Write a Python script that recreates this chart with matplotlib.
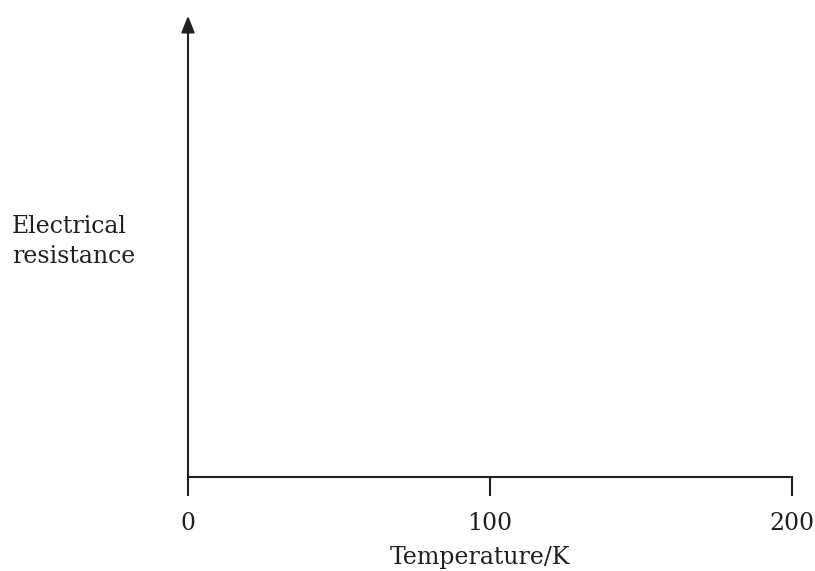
import matplotlib.pyplot as plt

plt.rcParams['font.family'] = ['DejaVu Serif']

W, H = 815, 571
x_ticks = [0, 100, 200]
x_tick_labels = ['0', '100', '200']
x_label = 'Temperature/K'
y_label_lines = ['Electrical', 'resistance']

ink = '#231f20'
fs = 17

fig = plt.figure(figsize=(W / 100, H / 100), dpi=100)
# axes box in pixels: x 188..792, y 477 (bottom) .. 30 (top of spine)
ax = fig.add_axes([188 / W, (H - 477) / H, (792 - 188) / W, (477 - 30) / H])
ax.set_xlim(0, 200)
ax.set_ylim(0, 1)

for s in ['top', 'right']:
    ax.spines[s].set_visible(False)
for s in ['left', 'bottom']:
    ax.spines[s].set_linewidth(1.5)
    ax.spines[s].set_color(ink)

ax.set_yticks([])
ax.set_xticks(x_ticks)
ax.set_xticklabels(x_tick_labels, fontsize=fs)
ax.tick_params(axis='x', length=14, width=1.5, color=ink, pad=11,
               labelcolor=ink)

# arrow head on the y axis
ax.annotate('', xy=(0, 1.038), xytext=(0, 0.99), xycoords='axes fraction',
            arrowprops=dict(arrowstyle='-|>,head_length=1.0,head_width=0.4',
                            color=ink, lw=1.5))

fig.text(480 / W, 1 - 564 / H, x_label, ha='center', va='baseline',
         fontsize=fs, color=ink)
for i, line in enumerate(y_label_lines):
    fig.text(12 / W, 1 - (233 + 30 * i) / H, line, ha='left', va='baseline',
             fontsize=fs, color=ink)

fig.savefig('out.png', dpi=100)
